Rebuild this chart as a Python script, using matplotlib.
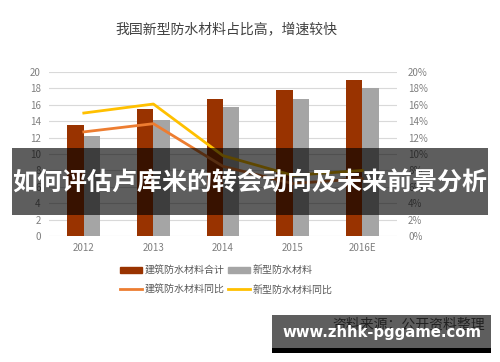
import matplotlib
matplotlib.use("Agg")
import matplotlib.pyplot as plt
from matplotlib.patches import Rectangle
from matplotlib.lines import Line2D
import numpy as np

plt.rcParams['font.family'] = ['Noto Sans CJK SC', 'DejaVu Sans']

years = ['2012', '2013', '2014', '2015', '2016E']
total = [13.5, 15.5, 16.7, 17.8, 19.0]
new_type = [12.2, 14.1, 15.7, 16.7, 18.0]
total_yoy = [12.7, 13.7, 8.5, 6.4, 7.0]
new_yoy = [15.0, 16.1, 9.8, 7.4, 8.0]

c_red = '#993300'
c_gray = '#a5a5a5'
c_orange = '#ed7d31'
c_yellow = '#ffc000'
c_tick = '#7f7f7f'

def main():
	fig = plt.figure(figsize=(5, 3.62), dpi=100)
	ax = fig.add_axes([0.098, 0.348, 0.696, 0.453])
	x = np.arange(len(years))
	w = 0.237

	ax.bar(x - w/2, total, w, color=c_red, zorder=2)
	ax.bar(x + w/2, new_type, w, color=c_gray, zorder=2)
	ax.set_ylim(0, 20)
	ax.set_yticks(range(0, 21, 2))
	ax.set_xlim(-0.5, 4.5)
	ax.set_xticks(x)
	ax.set_xticklabels(years)
	ax.grid(axis='y', color='#d9d9d9', lw=0.8, zorder=0)
	for s in ax.spines.values():
		s.set_visible(False)
	ax.tick_params(length=0, colors=c_tick, labelsize=7, pad=6)
	ax.tick_params(axis='x', pad=5)

	ax2 = ax.twinx()
	ax2.plot(x, total_yoy, color=c_orange, lw=2)
	ax2.plot(x, new_yoy, color=c_yellow, lw=2)
	ax2.set_ylim(0, 20)
	ax2.set_yticks(range(0, 21, 2))
	ax2.set_yticklabels(['%d%%' % v for v in range(0, 21, 2)])
	for s in ax2.spines.values():
		s.set_visible(False)
	ax2.tick_params(length=0, colors=c_tick, labelsize=7, pad=8)

	fig.text(0.452, 0.92, '我国新型防水材料占比高，增速较快', ha='center', va='center',
		fontsize=10, color='#404040')

	handles = [Rectangle((0, 0), 1, 1, color=c_red),
		Line2D([], [], color=c_orange, lw=2),
		Rectangle((0, 0), 1, 1, color=c_gray),
		Line2D([], [], color=c_yellow, lw=2)]
	labels = ['建筑防水材料合计', '建筑防水材料同比', '新型防水材料', '新型防水材料同比']
	fig.legend(handles, labels, ncol=2, loc='upper left', bbox_to_anchor=(0.24, 0.267),
		frameon=False, fontsize=7.2, labelcolor='#595959', handlelength=2.2,
		handleheight=0.6, handletextpad=0.3, columnspacing=0.25, labelspacing=0.9,
		borderpad=0, borderaxespad=0)

	# overlay banner
	fig.patches.append(Rectangle((0.024, 1 - 215/362), 0.952, 67/362, transform=fig.transFigure,
		facecolor='black', alpha=0.63, zorder=10))
	fig.text(0.5, 1 - 183/362, '如何评估卢库米的转会动向及未来前景分析', ha='center', va='center',
		fontsize=18, fontweight='bold', color='white', zorder=11)

	# source box
	fig.text(0.97, 1 - 325/362, '资料来源：公开资料整理', ha='right', va='center',
		fontsize=10, color='#595959', zorder=9)
	fig.patches.append(Rectangle((0.544, 1 - 348/362), 0.437, 33/362, transform=fig.transFigure,
		facecolor='black', alpha=0.63, zorder=10))
	fig.patches.append(Rectangle((0.544, 1 - 352.5/362), 0.437, 4.5/362, transform=fig.transFigure,
		facecolor='black', zorder=10))
	fig.text(0.763, 1 - 333/362, 'www.zhhk-pggame.com', ha='center', va='center',
		fontsize=10.7, fontweight='bold', color='white', family='DejaVu Sans', zorder=11)

	fig.savefig('out.png', dpi=100)

if __name__ == "__main__":
	main()
